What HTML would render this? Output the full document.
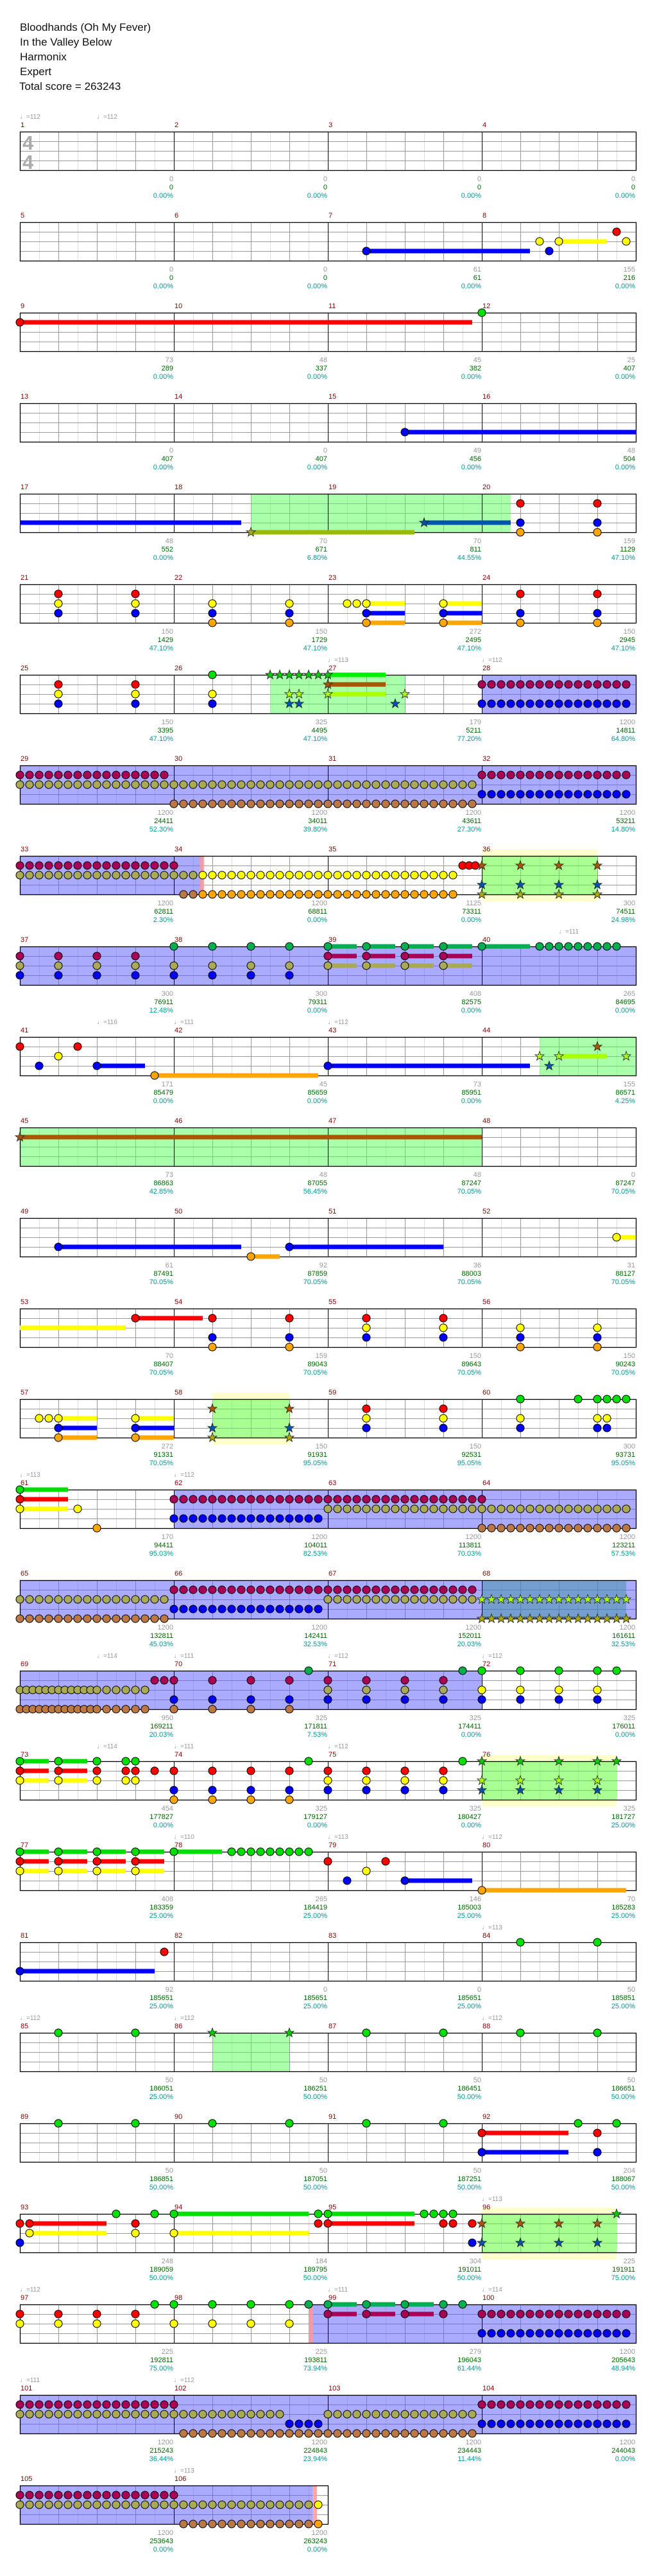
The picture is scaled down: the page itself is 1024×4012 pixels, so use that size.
<!DOCTYPE html>
<html><head><meta charset="utf-8">
<style>
html,body{margin:0;padding:0;background:#fff;}
svg{display:block;font-family:"Liberation Sans","DejaVu Sans",sans-serif;}
.t{font-size:17px;fill:#111;}
.m{font-size:11px;fill:#880000;}
.tp{font-size:10px;fill:#999;}
.g{font-size:11px;fill:#999;text-anchor:end;}
.s{font-size:11px;fill:#006600;text-anchor:end;}
.p{font-size:11px;fill:#009999;text-anchor:end;}
.ts{font-size:31px;fill:#aaa;font-weight:bold;}
</style></head><body>
<svg id="sv" xmlns="http://www.w3.org/2000/svg" width="1024" height="4012" viewBox="0 0 1024 4012">
<rect width="1024" height="4012" fill="#fff"/>
<g id="ly"></g><g id="grid"></g><g id="reg"></g><g id="lines"></g><g id="sus"></g><g id="notes"></g>
<text class="t" x="31" y="48">Bloodhands (Oh My Fever)</text>
<text class="t" x="31" y="71">In the Valley Below</text>
<text class="t" x="31" y="94">Harmonix</text>
<text class="t" x="31" y="117">Expert</text>
<text class="t" x="30" y="140">Total score = 263243</text>
<text class="ts" x="35" y="233">4</text><text class="ts" x="35" y="263">4</text>

<g transform="translate(0,205)"><text class="tp" x="31" y="-20">♩=112</text><text class="tp" x="151" y="-20">♩=112</text>
<text class="m" x="32" y="-7">1</text><text class="m" x="272" y="-7">2</text><text class="m" x="512" y="-7">3</text><text class="m" x="752" y="-7">4</text>
<text class="g" x="270" y="77">0</text><text class="s" x="270" y="90">0</text><text class="p" x="270" y="103">0.00%</text>
<text class="g" x="510" y="77">0</text><text class="s" x="510" y="90">0</text><text class="p" x="510" y="103">0.00%</text>
<text class="g" x="750" y="77">0</text><text class="s" x="750" y="90">0</text><text class="p" x="750" y="103">0.00%</text>
<text class="g" x="990" y="77">0</text><text class="s" x="990" y="90">0</text><text class="p" x="990" y="103">0.00%</text></g>

<g transform="translate(0,346)">
<text class="m" x="32" y="-7">5</text><text class="m" x="272" y="-7">6</text><text class="m" x="512" y="-7">7</text><text class="m" x="752" y="-7">8</text>
<text class="g" x="270" y="77">0</text><text class="s" x="270" y="90">0</text><text class="p" x="270" y="103">0.00%</text>
<text class="g" x="510" y="77">0</text><text class="s" x="510" y="90">0</text><text class="p" x="510" y="103">0.00%</text>
<text class="g" x="750" y="77">61</text><text class="s" x="750" y="90">61</text><text class="p" x="750" y="103">0.00%</text>
<text class="g" x="990" y="77">155</text><text class="s" x="990" y="90">216</text><text class="p" x="990" y="103">0.00%</text></g>

<g transform="translate(0,487)">
<text class="m" x="32" y="-7">9</text><text class="m" x="272" y="-7">10</text><text class="m" x="512" y="-7">11</text><text class="m" x="752" y="-7">12</text>
<text class="g" x="270" y="77">73</text><text class="s" x="270" y="90">289</text><text class="p" x="270" y="103">0.00%</text>
<text class="g" x="510" y="77">48</text><text class="s" x="510" y="90">337</text><text class="p" x="510" y="103">0.00%</text>
<text class="g" x="750" y="77">45</text><text class="s" x="750" y="90">382</text><text class="p" x="750" y="103">0.00%</text>
<text class="g" x="990" y="77">25</text><text class="s" x="990" y="90">407</text><text class="p" x="990" y="103">0.00%</text></g>

<g transform="translate(0,628)">
<text class="m" x="32" y="-7">13</text><text class="m" x="272" y="-7">14</text><text class="m" x="512" y="-7">15</text><text class="m" x="752" y="-7">16</text>
<text class="g" x="270" y="77">0</text><text class="s" x="270" y="90">407</text><text class="p" x="270" y="103">0.00%</text>
<text class="g" x="510" y="77">0</text><text class="s" x="510" y="90">407</text><text class="p" x="510" y="103">0.00%</text>
<text class="g" x="750" y="77">49</text><text class="s" x="750" y="90">456</text><text class="p" x="750" y="103">0.00%</text>
<text class="g" x="990" y="77">48</text><text class="s" x="990" y="90">504</text><text class="p" x="990" y="103">0.00%</text></g>

<g transform="translate(0,769)">
<text class="m" x="32" y="-7">17</text><text class="m" x="272" y="-7">18</text><text class="m" x="512" y="-7">19</text><text class="m" x="752" y="-7">20</text>
<text class="g" x="270" y="77">48</text><text class="s" x="270" y="90">552</text><text class="p" x="270" y="103">0.00%</text>
<text class="g" x="510" y="77">70</text><text class="s" x="510" y="90">671</text><text class="p" x="510" y="103">6.80%</text>
<text class="g" x="750" y="77">70</text><text class="s" x="750" y="90">811</text><text class="p" x="750" y="103">44.55%</text>
<text class="g" x="990" y="77">159</text><text class="s" x="990" y="90">1129</text><text class="p" x="990" y="103">47.10%</text></g>

<g transform="translate(0,910)">
<text class="m" x="32" y="-7">21</text><text class="m" x="272" y="-7">22</text><text class="m" x="512" y="-7">23</text><text class="m" x="752" y="-7">24</text>
<text class="g" x="270" y="77">150</text><text class="s" x="270" y="90">1429</text><text class="p" x="270" y="103">47.10%</text>
<text class="g" x="510" y="77">150</text><text class="s" x="510" y="90">1729</text><text class="p" x="510" y="103">47.10%</text>
<text class="g" x="750" y="77">272</text><text class="s" x="750" y="90">2495</text><text class="p" x="750" y="103">47.10%</text>
<text class="g" x="990" y="77">150</text><text class="s" x="990" y="90">2945</text><text class="p" x="990" y="103">47.10%</text></g>

<g transform="translate(0,1051)"><text class="tp" x="511" y="-20">♩=113</text><text class="tp" x="751" y="-20">♩=112</text>
<text class="m" x="32" y="-7">25</text><text class="m" x="272" y="-7">26</text><text class="m" x="512" y="-7">27</text><text class="m" x="752" y="-7">28</text>
<text class="g" x="270" y="77">150</text><text class="s" x="270" y="90">3395</text><text class="p" x="270" y="103">47.10%</text>
<text class="g" x="510" y="77">325</text><text class="s" x="510" y="90">4495</text><text class="p" x="510" y="103">47.10%</text>
<text class="g" x="750" y="77">179</text><text class="s" x="750" y="90">5211</text><text class="p" x="750" y="103">77.20%</text>
<text class="g" x="990" y="77">1200</text><text class="s" x="990" y="90">14811</text><text class="p" x="990" y="103">64.80%</text></g>

<g transform="translate(0,1192)">
<text class="m" x="32" y="-7">29</text><text class="m" x="272" y="-7">30</text><text class="m" x="512" y="-7">31</text><text class="m" x="752" y="-7">32</text>
<text class="g" x="270" y="77">1200</text><text class="s" x="270" y="90">24411</text><text class="p" x="270" y="103">52.30%</text>
<text class="g" x="510" y="77">1200</text><text class="s" x="510" y="90">34011</text><text class="p" x="510" y="103">39.80%</text>
<text class="g" x="750" y="77">1200</text><text class="s" x="750" y="90">43611</text><text class="p" x="750" y="103">27.30%</text>
<text class="g" x="990" y="77">1200</text><text class="s" x="990" y="90">53211</text><text class="p" x="990" y="103">14.80%</text></g>

<g transform="translate(0,1333)">
<text class="m" x="32" y="-7">33</text><text class="m" x="272" y="-7">34</text><text class="m" x="512" y="-7">35</text><text class="m" x="752" y="-7">36</text>
<text class="g" x="270" y="77">1200</text><text class="s" x="270" y="90">62811</text><text class="p" x="270" y="103">2.30%</text>
<text class="g" x="510" y="77">1200</text><text class="s" x="510" y="90">68811</text><text class="p" x="510" y="103">0.00%</text>
<text class="g" x="750" y="77">1125</text><text class="s" x="750" y="90">73311</text><text class="p" x="750" y="103">0.00%</text>
<text class="g" x="990" y="77">300</text><text class="s" x="990" y="90">74511</text><text class="p" x="990" y="103">24.98%</text></g>

<g transform="translate(0,1474)"><text class="tp" x="871" y="-20">♩=111</text>
<text class="m" x="32" y="-7">37</text><text class="m" x="272" y="-7">38</text><text class="m" x="512" y="-7">39</text><text class="m" x="752" y="-7">40</text>
<text class="g" x="270" y="77">300</text><text class="s" x="270" y="90">76911</text><text class="p" x="270" y="103">12.48%</text>
<text class="g" x="510" y="77">300</text><text class="s" x="510" y="90">79311</text><text class="p" x="510" y="103">0.00%</text>
<text class="g" x="750" y="77">408</text><text class="s" x="750" y="90">82575</text><text class="p" x="750" y="103">0.00%</text>
<text class="g" x="990" y="77">265</text><text class="s" x="990" y="90">84695</text><text class="p" x="990" y="103">0.00%</text></g>

<g transform="translate(0,1615)"><text class="tp" x="151" y="-20">♩=116</text><text class="tp" x="271" y="-20">♩=111</text><text class="tp" x="511" y="-20">♩=112</text>
<text class="m" x="32" y="-7">41</text><text class="m" x="272" y="-7">42</text><text class="m" x="512" y="-7">43</text><text class="m" x="752" y="-7">44</text>
<text class="g" x="270" y="77">171</text><text class="s" x="270" y="90">85479</text><text class="p" x="270" y="103">0.00%</text>
<text class="g" x="510" y="77">45</text><text class="s" x="510" y="90">85659</text><text class="p" x="510" y="103">0.00%</text>
<text class="g" x="750" y="77">73</text><text class="s" x="750" y="90">85951</text><text class="p" x="750" y="103">0.00%</text>
<text class="g" x="990" y="77">155</text><text class="s" x="990" y="90">86571</text><text class="p" x="990" y="103">4.25%</text></g>

<g transform="translate(0,1756)">
<text class="m" x="32" y="-7">45</text><text class="m" x="272" y="-7">46</text><text class="m" x="512" y="-7">47</text><text class="m" x="752" y="-7">48</text>
<text class="g" x="270" y="77">73</text><text class="s" x="270" y="90">86863</text><text class="p" x="270" y="103">42.85%</text>
<text class="g" x="510" y="77">48</text><text class="s" x="510" y="90">87055</text><text class="p" x="510" y="103">56.45%</text>
<text class="g" x="750" y="77">48</text><text class="s" x="750" y="90">87247</text><text class="p" x="750" y="103">70.05%</text>
<text class="g" x="990" y="77">0</text><text class="s" x="990" y="90">87247</text><text class="p" x="990" y="103">70.05%</text></g>

<g transform="translate(0,1897)">
<text class="m" x="32" y="-7">49</text><text class="m" x="272" y="-7">50</text><text class="m" x="512" y="-7">51</text><text class="m" x="752" y="-7">52</text>
<text class="g" x="270" y="77">61</text><text class="s" x="270" y="90">87491</text><text class="p" x="270" y="103">70.05%</text>
<text class="g" x="510" y="77">92</text><text class="s" x="510" y="90">87859</text><text class="p" x="510" y="103">70.05%</text>
<text class="g" x="750" y="77">36</text><text class="s" x="750" y="90">88003</text><text class="p" x="750" y="103">70.05%</text>
<text class="g" x="990" y="77">31</text><text class="s" x="990" y="90">88127</text><text class="p" x="990" y="103">70.05%</text></g>

<g transform="translate(0,2038)">
<text class="m" x="32" y="-7">53</text><text class="m" x="272" y="-7">54</text><text class="m" x="512" y="-7">55</text><text class="m" x="752" y="-7">56</text>
<text class="g" x="270" y="77">70</text><text class="s" x="270" y="90">88407</text><text class="p" x="270" y="103">70.05%</text>
<text class="g" x="510" y="77">159</text><text class="s" x="510" y="90">89043</text><text class="p" x="510" y="103">70.05%</text>
<text class="g" x="750" y="77">150</text><text class="s" x="750" y="90">89643</text><text class="p" x="750" y="103">70.05%</text>
<text class="g" x="990" y="77">150</text><text class="s" x="990" y="90">90243</text><text class="p" x="990" y="103">70.05%</text></g>

<g transform="translate(0,2179)">
<text class="m" x="32" y="-7">57</text><text class="m" x="272" y="-7">58</text><text class="m" x="512" y="-7">59</text><text class="m" x="752" y="-7">60</text>
<text class="g" x="270" y="77">272</text><text class="s" x="270" y="90">91331</text><text class="p" x="270" y="103">70.05%</text>
<text class="g" x="510" y="77">150</text><text class="s" x="510" y="90">91931</text><text class="p" x="510" y="103">95.05%</text>
<text class="g" x="750" y="77">150</text><text class="s" x="750" y="90">92531</text><text class="p" x="750" y="103">95.05%</text>
<text class="g" x="990" y="77">300</text><text class="s" x="990" y="90">93731</text><text class="p" x="990" y="103">95.05%</text></g>

<g transform="translate(0,2320)"><text class="tp" x="31" y="-20">♩=113</text><text class="tp" x="271" y="-20">♩=112</text>
<text class="m" x="32" y="-7">61</text><text class="m" x="272" y="-7">62</text><text class="m" x="512" y="-7">63</text><text class="m" x="752" y="-7">64</text>
<text class="g" x="270" y="77">170</text><text class="s" x="270" y="90">94411</text><text class="p" x="270" y="103">95.03%</text>
<text class="g" x="510" y="77">1200</text><text class="s" x="510" y="90">104011</text><text class="p" x="510" y="103">82.53%</text>
<text class="g" x="750" y="77">1200</text><text class="s" x="750" y="90">113811</text><text class="p" x="750" y="103">70.03%</text>
<text class="g" x="990" y="77">1200</text><text class="s" x="990" y="90">123211</text><text class="p" x="990" y="103">57.53%</text></g>

<g transform="translate(0,2461)">
<text class="m" x="32" y="-7">65</text><text class="m" x="272" y="-7">66</text><text class="m" x="512" y="-7">67</text><text class="m" x="752" y="-7">68</text>
<text class="g" x="270" y="77">1200</text><text class="s" x="270" y="90">132811</text><text class="p" x="270" y="103">45.03%</text>
<text class="g" x="510" y="77">1200</text><text class="s" x="510" y="90">142411</text><text class="p" x="510" y="103">32.53%</text>
<text class="g" x="750" y="77">1200</text><text class="s" x="750" y="90">152011</text><text class="p" x="750" y="103">20.03%</text>
<text class="g" x="990" y="77">1200</text><text class="s" x="990" y="90">161611</text><text class="p" x="990" y="103">32.53%</text></g>

<g transform="translate(0,2602)"><text class="tp" x="151" y="-20">♩=114</text><text class="tp" x="271" y="-20">♩=111</text><text class="tp" x="511" y="-20">♩=112</text><text class="tp" x="751" y="-20">♩=112</text>
<text class="m" x="32" y="-7">69</text><text class="m" x="272" y="-7">70</text><text class="m" x="512" y="-7">71</text><text class="m" x="752" y="-7">72</text>
<text class="g" x="270" y="77">950</text><text class="s" x="270" y="90">169211</text><text class="p" x="270" y="103">20.03%</text>
<text class="g" x="510" y="77">325</text><text class="s" x="510" y="90">171811</text><text class="p" x="510" y="103">7.53%</text>
<text class="g" x="750" y="77">325</text><text class="s" x="750" y="90">174411</text><text class="p" x="750" y="103">0.00%</text>
<text class="g" x="990" y="77">325</text><text class="s" x="990" y="90">176011</text><text class="p" x="990" y="103">0.00%</text></g>

<g transform="translate(0,2743)"><text class="tp" x="151" y="-20">♩=114</text><text class="tp" x="271" y="-20">♩=111</text><text class="tp" x="511" y="-20">♩=112</text>
<text class="m" x="32" y="-7">73</text><text class="m" x="272" y="-7">74</text><text class="m" x="512" y="-7">75</text><text class="m" x="752" y="-7">76</text>
<text class="g" x="270" y="77">454</text><text class="s" x="270" y="90">177827</text><text class="p" x="270" y="103">0.00%</text>
<text class="g" x="510" y="77">325</text><text class="s" x="510" y="90">179127</text><text class="p" x="510" y="103">0.00%</text>
<text class="g" x="750" y="77">325</text><text class="s" x="750" y="90">180427</text><text class="p" x="750" y="103">0.00%</text>
<text class="g" x="990" y="77">325</text><text class="s" x="990" y="90">181727</text><text class="p" x="990" y="103">25.00%</text></g>

<g transform="translate(0,2884)"><text class="tp" x="271" y="-20">♩=110</text><text class="tp" x="511" y="-20">♩=113</text><text class="tp" x="751" y="-20">♩=112</text>
<text class="m" x="32" y="-7">77</text><text class="m" x="272" y="-7">78</text><text class="m" x="512" y="-7">79</text><text class="m" x="752" y="-7">80</text>
<text class="g" x="270" y="77">408</text><text class="s" x="270" y="90">183359</text><text class="p" x="270" y="103">25.00%</text>
<text class="g" x="510" y="77">265</text><text class="s" x="510" y="90">184419</text><text class="p" x="510" y="103">25.00%</text>
<text class="g" x="750" y="77">146</text><text class="s" x="750" y="90">185003</text><text class="p" x="750" y="103">25.00%</text>
<text class="g" x="990" y="77">70</text><text class="s" x="990" y="90">185283</text><text class="p" x="990" y="103">25.00%</text></g>

<g transform="translate(0,3025)"><text class="tp" x="751" y="-20">♩=113</text>
<text class="m" x="32" y="-7">81</text><text class="m" x="272" y="-7">82</text><text class="m" x="512" y="-7">83</text><text class="m" x="752" y="-7">84</text>
<text class="g" x="270" y="77">92</text><text class="s" x="270" y="90">185651</text><text class="p" x="270" y="103">25.00%</text>
<text class="g" x="510" y="77">0</text><text class="s" x="510" y="90">185651</text><text class="p" x="510" y="103">25.00%</text>
<text class="g" x="750" y="77">0</text><text class="s" x="750" y="90">185651</text><text class="p" x="750" y="103">25.00%</text>
<text class="g" x="990" y="77">50</text><text class="s" x="990" y="90">185851</text><text class="p" x="990" y="103">25.00%</text></g>

<g transform="translate(0,3166)"><text class="tp" x="31" y="-20">♩=112</text><text class="tp" x="271" y="-20">♩=112</text><text class="tp" x="751" y="-20">♩=112</text>
<text class="m" x="32" y="-7">85</text><text class="m" x="272" y="-7">86</text><text class="m" x="512" y="-7">87</text><text class="m" x="752" y="-7">88</text>
<text class="g" x="270" y="77">50</text><text class="s" x="270" y="90">186051</text><text class="p" x="270" y="103">25.00%</text>
<text class="g" x="510" y="77">50</text><text class="s" x="510" y="90">186251</text><text class="p" x="510" y="103">50.00%</text>
<text class="g" x="750" y="77">50</text><text class="s" x="750" y="90">186451</text><text class="p" x="750" y="103">50.00%</text>
<text class="g" x="990" y="77">50</text><text class="s" x="990" y="90">186651</text><text class="p" x="990" y="103">50.00%</text></g>

<g transform="translate(0,3307)">
<text class="m" x="32" y="-7">89</text><text class="m" x="272" y="-7">90</text><text class="m" x="512" y="-7">91</text><text class="m" x="752" y="-7">92</text>
<text class="g" x="270" y="77">50</text><text class="s" x="270" y="90">186851</text><text class="p" x="270" y="103">50.00%</text>
<text class="g" x="510" y="77">50</text><text class="s" x="510" y="90">187051</text><text class="p" x="510" y="103">50.00%</text>
<text class="g" x="750" y="77">50</text><text class="s" x="750" y="90">187251</text><text class="p" x="750" y="103">50.00%</text>
<text class="g" x="990" y="77">204</text><text class="s" x="990" y="90">188067</text><text class="p" x="990" y="103">50.00%</text></g>

<g transform="translate(0,3448)"><text class="tp" x="751" y="-20">♩=113</text>
<text class="m" x="32" y="-7">93</text><text class="m" x="272" y="-7">94</text><text class="m" x="512" y="-7">95</text><text class="m" x="752" y="-7">96</text>
<text class="g" x="270" y="77">248</text><text class="s" x="270" y="90">189059</text><text class="p" x="270" y="103">50.00%</text>
<text class="g" x="510" y="77">184</text><text class="s" x="510" y="90">189795</text><text class="p" x="510" y="103">50.00%</text>
<text class="g" x="750" y="77">304</text><text class="s" x="750" y="90">191011</text><text class="p" x="750" y="103">50.00%</text>
<text class="g" x="990" y="77">225</text><text class="s" x="990" y="90">191911</text><text class="p" x="990" y="103">75.00%</text></g>

<g transform="translate(0,3589)"><text class="tp" x="31" y="-20">♩=112</text><text class="tp" x="511" y="-20">♩=111</text><text class="tp" x="751" y="-20">♩=114</text>
<text class="m" x="32" y="-7">97</text><text class="m" x="272" y="-7">98</text><text class="m" x="512" y="-7">99</text><text class="m" x="752" y="-7">100</text>
<text class="g" x="270" y="77">225</text><text class="s" x="270" y="90">192811</text><text class="p" x="270" y="103">75.00%</text>
<text class="g" x="510" y="77">225</text><text class="s" x="510" y="90">193811</text><text class="p" x="510" y="103">73.94%</text>
<text class="g" x="750" y="77">279</text><text class="s" x="750" y="90">196043</text><text class="p" x="750" y="103">61.44%</text>
<text class="g" x="990" y="77">1200</text><text class="s" x="990" y="90">205643</text><text class="p" x="990" y="103">48.94%</text></g>

<g transform="translate(0,3730)"><text class="tp" x="31" y="-20">♩=111</text><text class="tp" x="271" y="-20">♩=112</text>
<text class="m" x="32" y="-7">101</text><text class="m" x="272" y="-7">102</text><text class="m" x="512" y="-7">103</text><text class="m" x="752" y="-7">104</text>
<text class="g" x="270" y="77">1200</text><text class="s" x="270" y="90">215243</text><text class="p" x="270" y="103">36.44%</text>
<text class="g" x="510" y="77">1200</text><text class="s" x="510" y="90">224843</text><text class="p" x="510" y="103">23.94%</text>
<text class="g" x="750" y="77">1200</text><text class="s" x="750" y="90">234443</text><text class="p" x="750" y="103">11.44%</text>
<text class="g" x="990" y="77">1200</text><text class="s" x="990" y="90">244043</text><text class="p" x="990" y="103">0.00%</text></g>

<g transform="translate(0,3871)"><text class="tp" x="271" y="-20">♩=113</text>
<text class="m" x="32" y="-7">105</text><text class="m" x="272" y="-7">106</text>
<text class="g" x="270" y="77">1200</text><text class="s" x="270" y="90">253643</text><text class="p" x="270" y="103">0.00%</text>
<text class="g" x="510" y="77">1200</text><text class="s" x="510" y="90">263243</text><text class="p" x="510" y="103">0.00%</text></g>
</svg>
<script>
(function(){
var NS="http://www.w3.org/2000/svg";
function el(layer,tag,a){var e=document.createElementNS(NS,tag);for(var k in a)e.setAttribute(k,a[k]);document.getElementById(layer).appendChild(e);return e;}
var L={G:0,R:15,Y:30,B:45,O:60};
var NC={G:'#00e000',R:'#ff0000',Y:'#ffff00',B:'#0000ff',O:'#ffa500'};
var OC={G:'#00b050',R:'#aa0055',Y:'#aaaa55',B:'#0000ff',O:'#bb7744'};
var SC={G:'#00cc00',R:'#aa5500',Y:'#aaff00',B:'#0055aa',O:'#aaaa00'};
function T(r){return 205+141*r;}
function X(p){return 31+60*p;}
function N(r,p,lanes,len,od){len=len||0;for(var i=0;i<lanes.length;i++){var c=lanes[i];var y=T(r)+L[c];var col=od?OC[c]:NC[c];
 if(len)el('sus','rect',{x:X(p),y:y-3.5,width:60*len,height:7,fill:col});
 el('notes','circle',{cx:X(p),cy:y,r:6,fill:col,stroke:'#000','stroke-width':1});}}
function star(cx,cy,col){var pts=[];for(var i=0;i<10;i++){var a=-Math.PI/2+i*Math.PI/5;var rr=i%2?3:7.5;pts.push((cx+rr*Math.cos(a)).toFixed(1)+','+(cy+rr*Math.sin(a)).toFixed(1));}
 el('notes','polygon',{points:pts.join(' '),fill:col,stroke:'#222','stroke-width':0.8});}
function S(r,p,lanes,len,sc){len=len||0;for(var i=0;i<lanes.length;i++){var c=lanes[i];var y=T(r)+L[c];
 if(len)el('sus','rect',{x:X(p),y:y-3.5,width:60*len,height:7,fill:sc||SC[c]});star(X(p),y,SC[c]);}}
function Run(r,a,b,st,lanes,od){for(var p=a;p<=b+1e-6;p+=st)N(r,p,lanes,0,od);}
function RunS(r,a,b,st,lanes){for(var p=a;p<=b+1e-6;p+=st)S(r,p,lanes);}
function Bar(r,a,b,c){el('sus','rect',{x:X(a),y:T(r)+L[c]-3.5,width:60*(b-a),height:7,fill:NC[c]});}
function Reg(r,a,b,t){var f=t=='od'?'#5555ff':'#55ff55';el('reg','rect',{x:X(a),y:T(r),width:60*(b-a),height:60,fill:f,'fill-opacity':0.5});}
function YReg(r,a,b){el('ly','rect',{x:X(a),y:T(r)-10,width:60*(b-a),height:81,fill:'#ffffcc'});}
function Pink(r,p){el('reg','rect',{x:X(p)-3,y:T(r),width:7,height:60,fill:'#ff9999','fill-opacity':0.85});}
function Teal(r,a,b){el('reg','rect',{x:X(a),y:T(r),width:60*(b-a),height:60,fill:'#309090','fill-opacity':0.45});}
// grid
for(var r=0;r<27;r++){var w=r==26?8:16;var t=T(r);
 for(var i=1;i<2*w;i++){var x=31+30*i+0.5;
  if(i%8==0)el('lines','line',{x1:x,y1:t,x2:x,y2:t+60,stroke:'#000','stroke-width':1});
  else el('grid','line',{x1:x,y1:t,x2:x,y2:t+60,stroke:(i%2==0?'#999':'#ddd'),'stroke-width':1});}
 for(var j=1;j<4;j++)el('grid','line',{x1:31,y1:t+15*j+0.5,x2:31+60*w,y2:t+15*j+0.5,stroke:'#999','stroke-width':1});
 el('lines','rect',{x:31.5,y:t+0.5,width:60*w,height:60,fill:'none',stroke:'#000','stroke-width':1.3});}
// row1
N(1,9,"B",4.25);N(1,13.5,"Y");N(1,13.75,"B");N(1,14,"Y",1.25);N(1,15.5,"R");N(1,15.75,"Y");
// row2
N(2,0,"R",11.75);N(2,12,"G");
// row3
N(3,10,"B",6);
// row4
Bar(4,0,5.75,'B');Reg(4,6,12.75,'sp');S(4,6,"O",4.25,'#99bb00');S(4,10.5,"B",2.25);N(4,13,"RBO");N(4,15,"RBO");
// row5
N(5,1,"RYB");N(5,3,"RYB");N(5,5,"YBO");N(5,7,"YBO");N(5,8.5,"Y");N(5,8.75,"Y");N(5,9,"YBO",1);N(5,11,"YBO",1);N(5,13,"RBO");N(5,15,"RBO");
// row6
N(6,1,"RYB");N(6,3,"RYB");N(6,5,"GYB");Reg(6,6.5,10,'sp');S(6,8,"G",1.5,'#00ee00');RunS(6,6.5,7.75,.25,"G");
S(6,7,"YB");S(6,7.25,"YB");S(6,8,"RY",1.5);S(6,9.75,"B");S(6,10,"Y");Reg(6,12,16,'od');Run(6,12,15.75,.25,"RB",1);
// row7
Reg(7,0,16,'od');Run(7,0,3.75,.25,"R",1);Run(7,0,11.75,.25,"Y",1);Run(7,4,11.75,.25,"O",1);Run(7,12,15.75,.25,"RB",1);
// row8
Reg(8,0,4.75,'od');Pink(8,4.72);Run(8,0,4,.25,"R",1);Run(8,0,4.5,.25,"Y",1);Run(8,4.75,11.25,.25,"Y",0);Run(8,4.25,4.5,.25,"O",1);Run(8,4.75,11.25,.25,"O",0);
N(8,11.5,"R");N(8,11.67,"R");N(8,11.83,"R");YReg(8,12,15);Reg(8,12,15,'sp');[12,13,14,15].forEach(function(p){S(8,p,"RBO");});
// row9
Reg(9,0,16,'od');[0,1,2,3].forEach(function(p){N(9,p,"RYB",0,1);});[4,5,6,7].forEach(function(p){N(9,p,"GYB",0,1);});
[8,9,10,11].forEach(function(p){N(9,p,"GRY",.75,1);});N(9,12,"G",1.25,1);Run(9,13.5,15.5,.25,"G",1);
// row10
N(10,0,"R");N(10,.5,"B");N(10,1,"Y");N(10,1.5,"R");N(10,2,"B",1.25);N(10,3.5,"O",4.25);N(10,8,"B",5.25);
Reg(10,13.5,16,'sp');S(10,13.5,"Y");S(10,13.75,"B");S(10,14,"Y",1.25);S(10,15,"R");S(10,15.75,"Y");
// row11
Reg(11,0,12,'sp');S(11,0,"R",12);
// row12
N(12,1,"B",4.75);N(12,6,"O",.75);N(12,7,"B",4);N(12,15.5,"Y",.5);
// row13
Bar(13,0,2.75,"Y");N(13,3,"R",1.75);N(13,5,"RBO");N(13,7,"RBO");N(13,9,"RYB");N(13,11,"RYB");N(13,13,"YBO");N(13,15,"YBO");
// row14
N(14,.5,"Y");N(14,.75,"Y");N(14,1,"YBO",1);N(14,3,"YBO",1);YReg(14,5,7);Reg(14,5,7,'sp');S(14,5,"RBO");S(14,7,"RBO");
N(14,9,"RYB");N(14,11,"RYB");N(14,13,"GYB");N(14,14.5,"G");N(14,15,"GYB");N(14,15.25,"GYB");N(14,15.5,"G");N(14,15.75,"G");
// row15
N(15,0,"GRY",1.25);N(15,1.5,"Y");N(15,2,"O");Reg(15,4,16,'od');Run(15,4,12,.25,"R",1);Run(15,4,7.75,.25,"B",1);Run(15,8,15.75,.25,"Y",1);Run(15,12,15.75,.25,"O",1);
// row16
Reg(16,0,16,'od');Run(16,0,3.75,.25,"YO",1);Run(16,4,11.75,.25,"R",1);Run(16,4,7.75,.25,"B",1);Run(16,8,11.75,.25,"Y",1);Teal(16,12,15.75);RunS(16,12,15.75,.25,"YO");
// row17
Reg(17,0,12,'od');Run(17,0,2,1/6,"YO",1);Run(17,2.25,3.25,.25,"YO",1);N(17,3.5,"R",0,1);N(17,3.75,"R",0,1);
[4,5,6,7].forEach(function(p){N(17,p,"RBO",0,1);});N(17,7.5,"G",0,1);[8,9,10,11].forEach(function(p){N(17,p,"RYB",0,1);});N(17,11.5,"G",0,1);
[12,13,14,15].forEach(function(p){N(17,p,"GYB");});N(17,15.5,"G");
// row18
N(18,0,"GRY",.75);N(18,1,"GRY",.75);N(18,2,"GRY");N(18,2.75,"GRY");N(18,3,"GRY");N(18,3.5,"R");
[4,5,6,7].forEach(function(p){N(18,p,"RBO");});N(18,7.5,"G");[8,9,10,11].forEach(function(p){N(18,p,"RYB");});N(18,11.5,"G");
YReg(18,12,15.5);Reg(18,12,15.5,'sp');[12,13,14,15].forEach(function(p){S(18,p,"GYB");});S(18,15.5,"G");
// row19
[0,1,2,3].forEach(function(p){N(19,p,"GRY",.75);});N(19,4,"G",1.25);Run(19,5.5,7.5,.25,"G");
N(19,8,"R");N(19,8.5,"B");N(19,9,"Y");N(19,9.5,"R");N(19,10,"B",1.75);N(19,12,"O",3.75);
// row20
N(20,0,"B",3.5);N(20,3.75,"R");N(20,13,"G");N(20,15,"G");
// row21
N(21,1,"G");N(21,3,"G");Reg(21,5,7,'sp');S(21,5,"G");S(21,7,"G");[9,11,13,15].forEach(function(p){N(21,p,"G");});
// row22
[1,3,5,7,9,11].forEach(function(p){N(22,p,"G");});N(22,12,"RB",2.25);N(22,14.5,"G");N(22,15,"RB");N(22,15.5,"G");
// row23
N(23,0,"RB");N(23,.25,"RY",2);N(23,2.5,"G");N(23,3,"RY");N(23,3.5,"G");N(23,4,"GY",3.5);N(23,7.75,"GR");N(23,8,"GR",2.25);
Run(23,10.5,11.25,.25,"G");N(23,11,"R");N(23,11.25,"R");N(23,11.75,"RB");YReg(23,12,15.5);Reg(23,12,15.5,'sp');
[12,13,14,15].forEach(function(p){S(23,p,"RB");});S(23,15.5,"G");
// row24
[0,1,2,3].forEach(function(p){N(24,p,"RY");});N(24,3.5,"G");[4,5,6,7].forEach(function(p){N(24,p,"GY");});
Reg(24,7.5,16,'od');Pink(24,7.55);N(24,7.5,"G",0,1);[8,9,10].forEach(function(p){N(24,p,"GR",.75,1);});N(24,11,"GR",0,1);N(24,11.5,"G",0,1);Run(24,12,15.75,.25,"RB",1);
// row25
Reg(25,0,16,'od');Run(25,0,4,.25,"R",1);Run(25,0,6.75,.25,"Y",1);Run(25,7,7.75,.25,"B",1);Run(25,4.25,11.75,.25,"O",1);Run(25,8,11.75,.25,"Y",1);Run(25,12,15.75,.25,"RB",1);
// row26
Reg(26,0,7.6,'od');Pink(26,7.65);Run(26,0,4,.25,"R",1);Run(26,0,7.5,.25,"Y",1);N(26,7.75,"Y");Run(26,4.25,7.5,.25,"O",1);N(26,7.75,"O");
})();
</script>
</body></html>
